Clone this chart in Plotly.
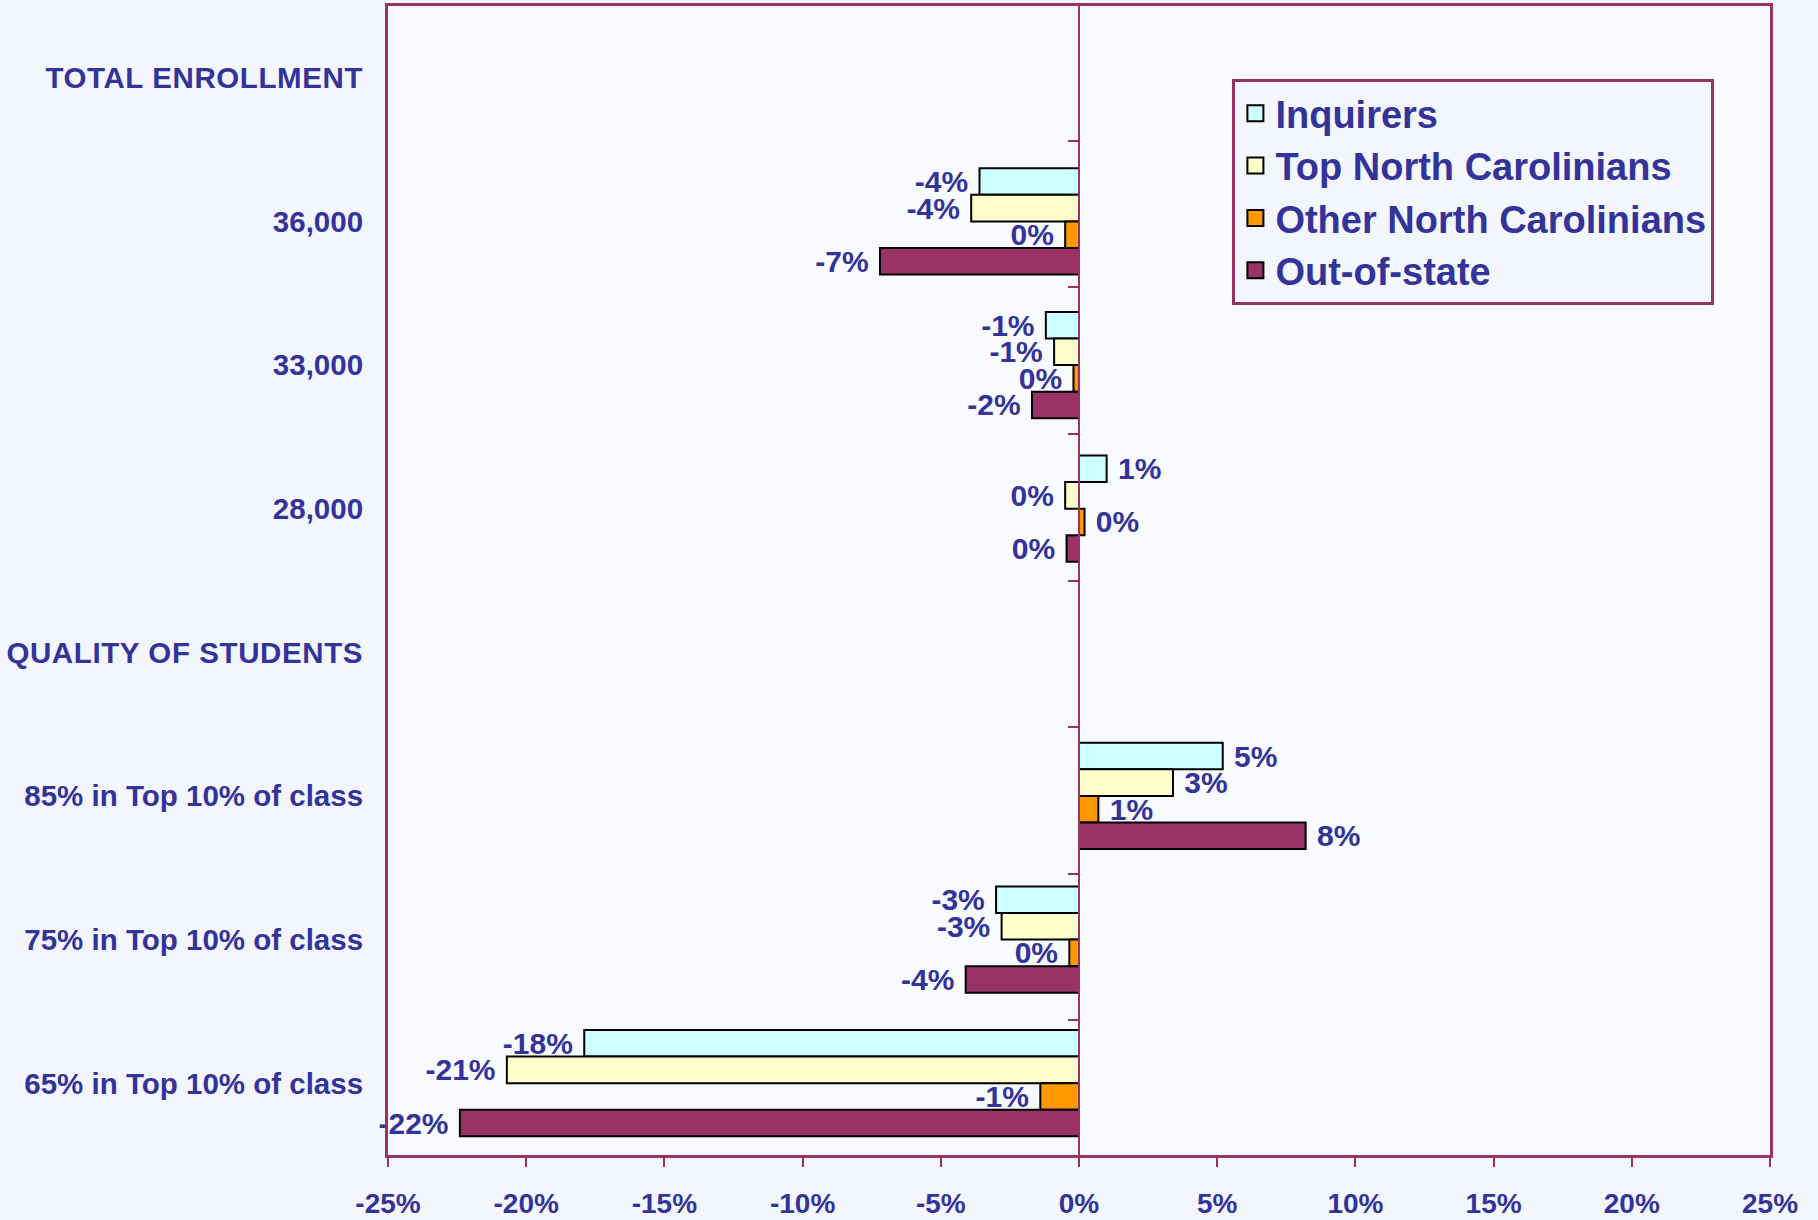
import plotly.graph_objects as go

categories = ["TOTAL ENROLLMENT", "36,000", "33,000", "28,000", "QUALITY OF STUDENTS",
              "85% in Top 10% of class", "75% in Top 10% of class", "65% in Top 10% of class"]
heading_categories = ["TOTAL ENROLLMENT", "QUALITY OF STUDENTS"]

series_names = ["Inquirers", "Top North Carolinians", "Other North Carolinians", "Out-of-state"]

inquirers = [None, -3.6, -1.2, 1.0, None, 5.2, -3.0, -17.9]
top_nc = [None, -3.9, -0.9, -0.5, None, 3.4, -2.8, -20.7]
other_nc = [None, -0.5, -0.2, 0.2, None, 0.7, -0.35, -1.4]
out_of_state = [None, -7.2, -1.7, -0.45, None, 8.2, -4.1, -22.4]

inquirers_labels = ["", "-4%", "-1%", "1%", "", "5%", "-3%", "-18%"]
top_nc_labels = ["", "-4%", "-1%", "0%", "", "3%", "-3%", "-21%"]
other_nc_labels = ["", "0%", "0%", "0%", "", "1%", "0%", "-1%"]
out_of_state_labels = ["", "-7%", "-2%", "0%", "", "8%", "-4%", "-22%"]

x_tick_values = [-25, -20, -15, -10, -5, 0, 5, 10, 15, 20, 25]
x_tick_labels = ["-25%", "-20%", "-15%", "-10%", "-5%", "0%", "5%", "10%", "15%", "20%", "25%"]

colors = ["#CCFFFF", "#FFFFCC", "#FF9900", "#993366"]
TEXT = "#333399"
FRAME = "#993366"
FONT = "Liberation Sans, Arial, sans-serif"
NARROW = "Liberation Sans Narrow, Arial Narrow, Liberation Sans, Arial, sans-serif"
NBSP = "\u00a0"

values = [inquirers, top_nc, other_nc, out_of_state]
labels = [inquirers_labels, top_nc_labels, other_nc_labels, out_of_state_labels]


def padded(vals, labs):
    out = []
    for v, l in zip(vals, labs):
        if v is None or not l:
            out.append("")
        elif v < 0:
            out.append(l + NBSP)
        else:
            out.append(NBSP + l)
    return out


fig = go.Figure()
for name, vals, labs, col in zip(series_names, values, labels, colors):
    fig.add_trace(go.Bar(
        name=name, x=vals, y=categories, orientation="h",
        marker=dict(color=col, line=dict(color="#000000", width=2)),
        text=padded(vals, labs), textposition="outside", constraintext="none", cliponaxis=False,
        textfont=dict(family=FONT, size=30, color=TEXT, weight="bold"),
        showlegend=False, legendgroup=name, hoverinfo="x+y",
    ))

# legend entries with larger square swatches
for name, col in zip(series_names, colors):
    fig.add_trace(go.Scatter(
        name=name, x=[None], y=[None], mode="markers", legendgroup=name,
        marker=dict(symbol="square", size=20, color=col, line=dict(color="#000000", width=2)),
        showlegend=True, hoverinfo="skip",
    ))

# helper trace for the category axis drawn at the zero line
fig.add_trace(go.Scatter(x=[None] * len(categories), y=categories, yaxis="y2",
                         mode="markers", showlegend=False, hoverinfo="skip"))

tick_text = [f'<span style="letter-spacing:0.6px">{c}</span>' if c in heading_categories else c
             for c in categories]

fig.update_layout(
    width=1818, height=1220,
    margin=dict(l=388, r=48, t=6, b=65),
    paper_bgcolor="#F3F6FC", plot_bgcolor="#F8FAFE",
    barmode="group", bargap=0.26, bargroupgap=0,
    font=dict(family=FONT, color=TEXT),
    xaxis=dict(range=[-25, 25], tickvals=x_tick_values, ticktext=x_tick_labels,
               showgrid=False, zeroline=False, automargin=False,
               showline=True, linecolor=FRAME, linewidth=3, mirror=True,
               ticks="outside", ticklen=9, tickwidth=2, tickcolor=FRAME,
               ticklabelstandoff=12,
               tickfont=dict(family=NARROW, size=28, color=TEXT, weight="bold")),
    yaxis=dict(type="category", autorange="reversed", showgrid=False, zeroline=False,
               automargin=False,
               showline=True, linecolor=FRAME, linewidth=3, mirror=True,
               tickmode="array", tickvals=categories, ticktext=tick_text,
               ticks="", ticklabelstandoff=16,
               tickfont=dict(family=FONT, size=29.5, color=TEXT, weight="bold")),
    yaxis2=dict(type="category", autorange="reversed", overlaying="y", anchor="free",
                position=0.5, side="left", showgrid=False, zeroline=False, automargin=False,
                showline=True, linecolor=FRAME, linewidth=2,
                ticks="outside", tickson="boundaries", ticklen=10, tickwidth=2,
                tickcolor=FRAME, showticklabels=False),
    legend=dict(x=0.611, y=0.9365, xanchor="left", yanchor="top",
                bgcolor="#F3F6FC", bordercolor=FRAME, borderwidth=3,
                tracegroupgap=4, traceorder="normal",
                font=dict(family=FONT, size=38, color=TEXT, weight="bold")),
    showlegend=True,
)

fig.write_html("out.html", config={"displayModeBar": False},
               post_script="document.body.style.margin='0';")
